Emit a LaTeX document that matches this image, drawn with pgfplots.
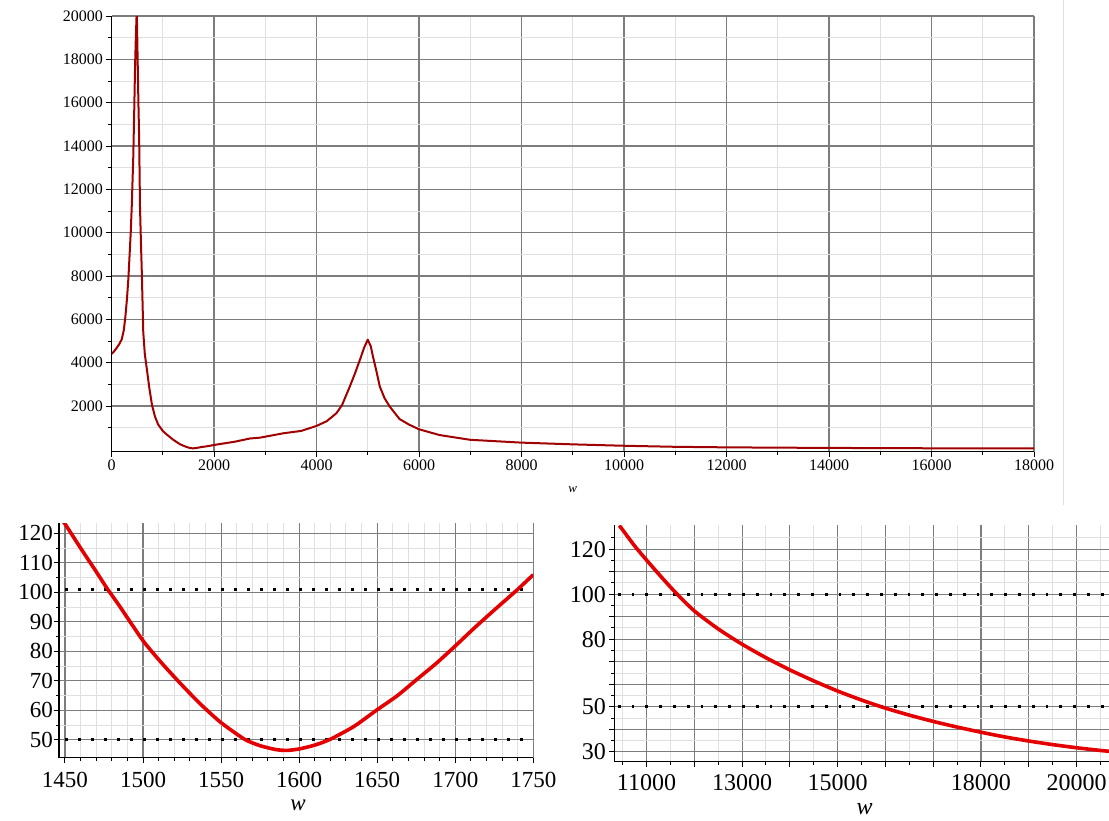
\documentclass[border=0pt]{standalone}
\usepackage{fontspec}
\setmainfont{Liberation Serif}
\usepackage{pgfplots}
\pgfplotsset{compat=1.18}
\definecolor{topred}{RGB}{160,0,0}
\definecolor{botred}{RGB}{228,0,0}
\definecolor{majgrid}{RGB}{125,125,125}
\definecolor{mingrid}{RGB}{224,224,224}
\pgfplotsset{
  mapleaxis/.style={
    scale only axis,
    axis x line*=bottom, axis y line*=left,
    axis line style={black, line width=1.3pt},
    tick align=outside,
    major tick length=5pt, minor tick length=3pt,
    every tick/.style={black, line width=1pt},
    grid=both,
    major grid style={majgrid, line width=1.1pt},
    minor grid style={mingrid, line width=1pt},
    /pgf/number format/assume math mode=true,
    /pgf/number format/set thousands separator={},
    scaled ticks=false,
  }
}
\begin{document}
\begin{tikzpicture}
\useasboundingbox (0,0) rectangle (1109pt,-820pt);
\draw[black!12, line width=1pt] (1063pt,0pt) -- (1063pt,-505pt);
% ---------------- top panel ----------------
\begin{axis}[mapleaxis,
  at={(111.5pt,-451.5pt)}, anchor=south west,
  width=922.5pt, height=435.5pt,
  xmin=0, xmax=18000, ymin=-100, ymax=20000,
  xtick={0,2000,...,18000}, minor xtick={1000,3000,...,17000},
  ytick={2000,4000,...,20000}, minor ytick={1000,3000,...,19000},
  ticklabel style={font=\fontsize{16}{19}\selectfont},
  xlabel={\textit{w}},
  xlabel style={at={(axis description cs:0.5,0)}, anchor=center, yshift=-38.5pt, font=\fontsize{13}{15}\selectfont},
]
\addplot[topred, line width=2pt, line join=round] coordinates {
(0,4400) (50,4520) (100,4680) (150,4850) (200,5080) (240,5500) (270,6100)
(300,6900) (330,7900) (360,9300) (375,10000) (395,11200) (425,13500)
(445,15800) (460,17700) (475,19000) (493,20300) (510,18000) (525,16000)
(540,14300) (556,11200) (575,9500) (590,8300) (620,5400) (650,4400)
(690,3700) (740,2800) (790,2050) (850,1500) (910,1150) (1000,850)
(1080,680) (1200,450) (1340,230) (1450,122) (1500,84) (1550,56)
(1592,46.5) (1650,60) (1700,82) (1750,106) (1860,140) (2000,200)
(2115,245) (2400,350) (2700,500) (2900,540) (3350,740) (3700,850)
(4000,1080) (4200,1300) (4390,1670) (4500,2050) (4650,2900) (4750,3500)
(4850,4150) (4930,4700) (5000,5060) (5060,4750) (5100,4300) (5170,3600)
(5235,2900) (5330,2350) (5430,1970) (5620,1400) (5800,1150) (6000,926)
(6400,660) (7000,440) (8000,310) (9000,230) (10000,165) (11000,117)
(12000,92) (13000,78) (14000,66) (15000,57) (16000,49) (17000,43) (18000,39)
};
\end{axis}
% ---------------- bottom left panel ----------------
\begin{axis}[mapleaxis,
  at={(58.9pt,-757.5pt)}, anchor=south west,
  width=474.4pt, height=234.5pt,
  xmin=1446.1, xmax=1750, ymin=44, ymax=123.5,
  xtick={1450,1500,...,1750}, minor x tick num=4,
  ytick={50,60,...,120}, minor y tick num=1,
  ticklabel style={font=\fontsize{23}{27}\selectfont},
  xticklabel style={yshift=-8pt, inner sep=1pt},
  yticklabel style={xshift=2.5pt},
  xlabel={\textit{w}},
  xlabel style={at={(axis description cs:0.504,0)}, anchor=base, inner sep=0pt, yshift=-53pt, font=\fontsize{23}{27}\selectfont},
]
\addplot[black, line width=2.8pt, dash pattern=on 2.8pt off 10.2pt] coordinates {(1450,101) (1745,101)};
\addplot[black, line width=2.8pt, dash pattern=on 2.8pt off 10.2pt] coordinates {(1450,50.2) (1745,50.2)};
\addplot[botred, line width=3.6pt, smooth, tension=0.4] coordinates {
(1448,124.5) (1450,123.2) (1460,115) (1470,107) (1477,101.3) (1485,95.3)
(1500,83.6) (1512,76) (1525,68.5) (1537,62) (1550,55.8) (1565,50.2)
(1575,48) (1585,46.7) (1592,46.4) (1600,46.9) (1610,48.2) (1620,50.2)
(1635,54.5) (1650,60.2) (1663,65) (1675,70.3) (1688,76) (1700,81.8)
(1712,87.8) (1725,94) (1740,101) (1750,106)
};
\end{axis}
% ---------------- bottom right panel ----------------
\begin{axis}[mapleaxis,
  at={(614.3pt,-761.7pt)}, anchor=south west,
  width=494.7pt, height=236.7pt,
  xmin=10326, xmax=20680, ymin=25.6, ymax=130.75,
  xtick={11000,12000,...,20000},
  xticklabels={11000,,13000,,15000,,,18000,,20000},
  minor xtick={10500,11500,...,20500},
  ytick={30,40,...,120},
  yticklabels={30,,50,,,80,,100,,120},
  minor ytick={35,45,...,125},
  ticklabel style={font=\fontsize{24}{28}\selectfont},
  xticklabel style={yshift=-7pt, inner sep=1pt},
  yticklabel style={xshift=0pt},
  xlabel={\textit{w}},
  xlabel style={at={(axis description cs:0.506,0)}, anchor=base, inner sep=0pt, yshift=-53pt, font=\fontsize{24}{28}\selectfont},
]
\addplot[black, line width=2.8pt, dash pattern=on 2.8pt off 11pt] coordinates {(10400,100) (20680,100)};
\addplot[black, line width=2.8pt, dash pattern=on 2.8pt off 11pt] coordinates {(10400,50) (20680,50)};
\addplot[botred, line width=3.6pt, smooth, tension=0.4] coordinates {
(10430,130.5) (10500,128.6) (10750,121.5) (11000,115.2) (11300,107.9)
(11615,100.6) (12000,92.6) (12500,84.6) (13000,77.8) (13500,71.8)
(14000,66.4) (14500,61.5) (15000,57.0) (15500,53.0) (16000,49.4)
(16500,46.3) (17000,43.5) (17500,41.0) (18000,38.7) (18500,36.6)
(19000,34.8) (19500,33.2) (20000,31.8) (20500,30.6) (20700,30.2)
};
\end{axis}
\end{tikzpicture}
\end{document}
